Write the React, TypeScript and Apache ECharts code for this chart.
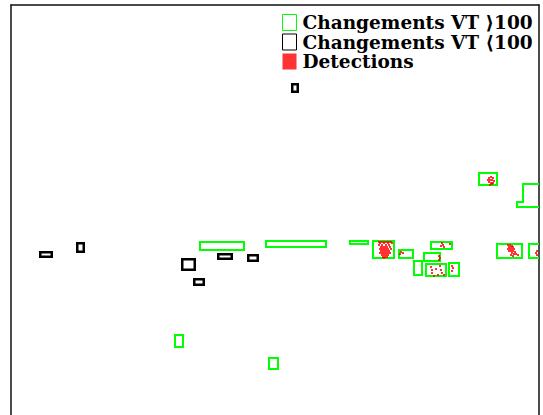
import React, { useEffect, useRef } from "react";
import * as echarts from "echarts";

// Outer bounds [x0, y0, x1, y1] in image pixel units
const greenRects: number[][] = [
  [199, 241, 245, 251],
  [265, 240, 327, 248],
  [349, 240, 369, 245],
  [372, 240, 395, 259],
  [398, 249, 414, 259],
  [430, 241, 453, 250],
  [423, 252, 441, 262],
  [413, 260, 423, 276],
  [425, 263, 447, 277],
  [448, 262, 460, 277],
  [478, 172, 498, 186],
  [496, 243, 523, 259],
  [528, 243, 545, 259],
  [174, 334, 184, 348],
  [268, 357, 279, 370],
];

// Polygon vertices (flattened x,y pairs), stroke centre line
const greenPolygons: number[][] = [
  [523, 184, 545, 184, 545, 207, 517, 207, 517, 202, 523, 202],
];

const blackRects: number[][] = [
  [291, 83, 299, 93],
  [39, 251, 53, 258],
  [76, 242, 85, 253],
  [181, 258, 196, 271],
  [217, 253, 233, 260],
  [247, 254, 259, 262],
  [193, 278, 205, 286],
];

const detections: number[][] = [
  // box at 372-395
  [379, 242], [381, 242], [383, 242], [385, 242], [387, 242], [389, 242], [391, 242],
  [380, 243], [384, 243], [388, 243], [392, 243],
  [379, 245], [382, 245], [386, 245], [389, 245],
  [381, 247], [383, 247], [385, 247], [387, 247], [390, 247],
  [380, 249], [382, 249], [384, 249], [386, 249], [388, 249], [391, 249],
  [381, 251], [383, 251], [385, 251], [387, 251], [389, 251],
  [380, 253], [382, 253], [384, 253], [386, 253], [388, 253], [390, 253],
  [382, 255], [384, 255], [386, 255], [388, 255],
  [383, 257], [385, 257], [387, 257], [384, 258],
  // box at 398-414
  [401, 252], [403, 253], [400, 254],
  // box at 430-453
  [442, 243], [443, 245], [444, 247], [441, 246], [450, 244],
  // box at 423-441
  [439, 256], [440, 258], [439, 260],
  // box at 425-447
  [431, 267], [432, 270], [432, 273], [436, 269], [440, 266], [441, 270],
  [442, 273], [444, 275], [434, 276], [438, 275],
  // box at 448-460
  [452, 266], [453, 268], [452, 271],
  // box at 478-498
  [489, 178], [491, 177], [493, 178], [488, 180], [490, 180], [492, 180],
  [494, 181], [489, 182], [491, 183], [493, 183], [490, 185], [492, 184],
  // box at 496-523
  [508, 245], [510, 245], [512, 246], [509, 247], [511, 247], [513, 247],
  [508, 249], [510, 249], [512, 249], [514, 249], [509, 251], [511, 251],
  [513, 251], [515, 252], [512, 253], [514, 254], [516, 254], [518, 255],
  [511, 255], [513, 256],
  // box at 528+
  [537, 251], [536, 253], [537, 255],
];

const NAME_GT = "Changements VT \u27e9100";
const NAME_LT = "Changements VT \u27e8100";
const NAME_DET = "Detections";

const GREEN = "#00ff00";
const BLACK = "#000000";

function rectRenderer(color: string, lw: number) {
  return (params: any, api: any) => {
    const p0 = api.coord([api.value(0), api.value(1)]);
    const p1 = api.coord([api.value(2), api.value(3)]);
    return {
      type: "rect",
      shape: {
        x: p0[0] + lw / 2,
        y: p0[1] + lw / 2,
        width: p1[0] - p0[0] - lw,
        height: p1[1] - p0[1] - lw,
      },
      style: { fill: "none", stroke: color, lineWidth: lw },
    };
  };
}

function polyRenderer(color: string, lw: number) {
  return (params: any, api: any) => {
    const pts: number[][] = [];
    const n = greenPolygons[params.dataIndex].length / 2;
    for (let i = 0; i < n; i++) {
      pts.push(api.coord([api.value(2 * i), api.value(2 * i + 1)]));
    }
    return {
      type: "polygon",
      shape: { points: pts },
      style: { fill: "none", stroke: color, lineWidth: lw },
    };
  };
}

export default function App() {
  const ref = useRef<HTMLDivElement>(null);
  useEffect(() => {
    if (!ref.current) return;
    const chart = echarts.init(ref.current, null, { renderer: "svg" });
    const axisLine = { show: true, onZero: false, lineStyle: { color: "#111", width: 1.5 } };
    chart.setOption({
      animation: false,
      backgroundColor: "#ffffff",
      grid: { left: 11, top: 5, right: 4, bottom: 0 },
      xAxis: {
        type: "value",
        min: 11,
        max: 539,
        position: "top",
        axisLine,
        axisTick: { show: false },
        axisLabel: { show: false },
        splitLine: { show: false },
      },
      yAxis: [
        {
          type: "value",
          min: 5,
          max: 415,
          inverse: true,
          position: "left",
          axisLine,
          axisTick: { show: false },
          axisLabel: { show: false },
          splitLine: { show: false },
        },
        {
          type: "value",
          min: 5,
          max: 415,
          inverse: true,
          position: "right",
          axisLine,
          axisTick: { show: false },
          axisLabel: { show: false },
          splitLine: { show: false },
        },
      ],
      legend: {
        orient: "vertical",
        left: 282,
        top: 13,
        padding: 0,
        itemWidth: 14,
        itemHeight: 16,
        itemGap: 0.5,
        selectedMode: false,
        textStyle: {
          fontFamily: "DejaVu Serif",
          fontWeight: "bold",
          fontSize: 18.5,
          color: "#000",
          padding: [0, 0, 0, 1],
        },
        data: [
          { name: NAME_GT, icon: "rect", itemStyle: { color: "#ffffff", borderColor: GREEN, borderWidth: 1 } },
          { name: NAME_LT, icon: "rect", itemStyle: { color: "#ffffff", borderColor: "#000", borderWidth: 1 } },
          { name: NAME_DET, icon: "rect", itemStyle: { color: "#ff0000", borderWidth: 0 } },
        ],
      },
      series: [
        {
          name: NAME_GT,
          type: "custom",
          clip: true,
          renderItem: rectRenderer(GREEN, 2),
          itemStyle: { color: GREEN },
          data: greenRects,
        },
        {
          name: NAME_GT,
          type: "custom",
          clip: true,
          renderItem: polyRenderer(GREEN, 2),
          itemStyle: { color: GREEN },
          data: greenPolygons,
        },
        {
          name: NAME_LT,
          type: "custom",
          clip: true,
          renderItem: rectRenderer(BLACK, 2.5),
          itemStyle: { color: BLACK },
          data: blackRects,
        },
        {
          name: NAME_DET,
          type: "scatter",
          clip: true,
          symbol: "rect",
          symbolSize: 2,
          itemStyle: { color: "#ff0000" },
          data: detections,
        },
      ],
    });
    return () => chart.dispose();
  }, []);
  return (
    <div
      ref={ref}
      style={{ position: "fixed", left: 0, top: 0, width: 543, height: 415 }}
    />
  );
}
